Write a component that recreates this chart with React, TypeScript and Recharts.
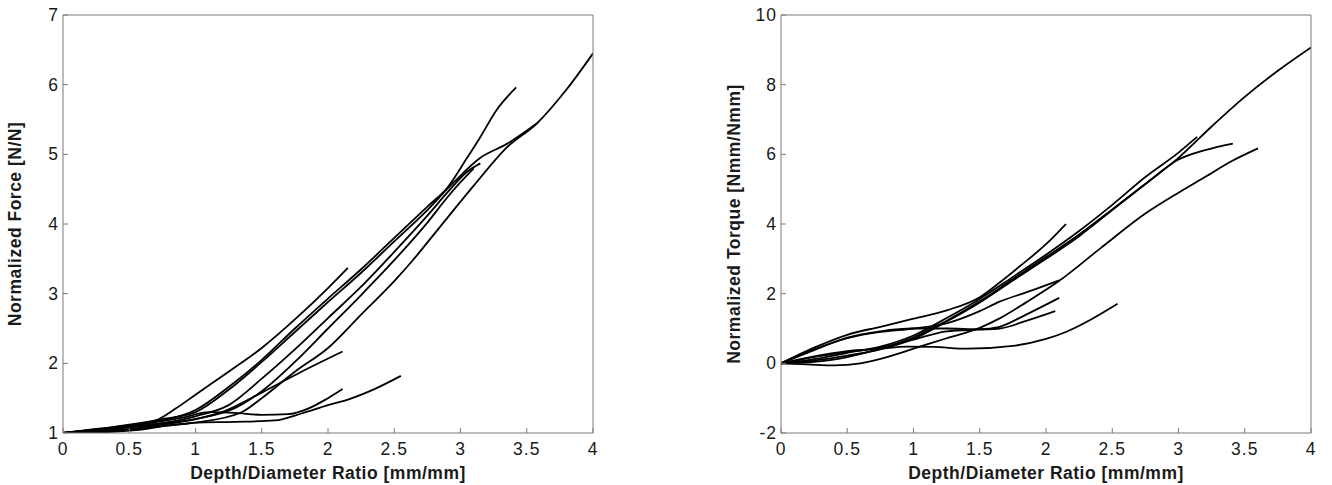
/**
 * Normalized force and torque vs depth/diameter ratio, two MATLAB-style panels.
 */

import React from 'react';
import { LineChart, Line, XAxis, YAxis, Label } from 'recharts';

// ============================================================================
// DATA  ([depth/diameter, normalized value] pairs)
// ============================================================================

const xTicks = [0, 0.5, 1, 1.5, 2, 2.5, 3, 3.5, 4];
const forceTicks = [1, 2, 3, 4, 5, 6, 7];
const torqueTicks = [-2, 0, 2, 4, 6, 8, 10];

const force1 = [[0, 1], [0.25, 1.06], [0.5, 1.11], [0.7, 1.18], [0.85, 1.35], [1, 1.55], [1.25, 1.88], [1.5, 2.22], [1.75, 2.63], [2, 3.08], [2.15, 3.37]];
const force2 = [[0, 1], [0.25, 1.04], [0.5, 1.1], [0.75, 1.18], [1, 1.33], [1.25, 1.66], [1.5, 2.05], [1.75, 2.5], [2, 2.93], [2.25, 3.35], [2.5, 3.8], [2.75, 4.25], [2.9, 4.52], [3.05, 4.95], [3.15, 5.25], [3.27, 5.63], [3.42, 5.96]];
const force3 = [[0, 1], [0.25, 1.03], [0.5, 1.08], [0.75, 1.14], [1, 1.24], [1.25, 1.4], [1.5, 1.78], [1.75, 2.2], [2, 2.65], [2.25, 3.1], [2.5, 3.6], [2.75, 4.12], [2.9, 4.45], [3.05, 4.75], [3.15, 4.87]];
const force4 = [[0, 1], [0.25, 1.02], [0.5, 1.06], [0.75, 1.12], [1, 1.2], [1.3, 1.36], [1.5, 1.6], [1.75, 2.02], [2, 2.5], [2.25, 2.98], [2.5, 3.48], [2.75, 4.02], [2.9, 4.38], [3, 4.6], [3.1, 4.8]];
const force5 = [[0, 1], [0.25, 1.02], [0.5, 1.05], [0.75, 1.1], [1, 1.15], [1.34, 1.29], [1.5, 1.5], [1.75, 1.88], [2, 2.22], [2.25, 2.7], [2.5, 3.18], [2.64, 3.48], [2.85, 3.97], [3.1, 4.55], [3.35, 5.1], [3.58, 5.45], [3.8, 5.93], [4, 6.45]];
const force6 = [[0, 1], [0.25, 1.05], [0.5, 1.12], [0.75, 1.2], [1, 1.3], [1.25, 1.62], [1.5, 2.02], [1.75, 2.45], [2, 2.88], [2.25, 3.3], [2.5, 3.75], [2.75, 4.2], [2.95, 4.6], [3.15, 4.95], [3.35, 5.15], [3.58, 5.45]];
const force7 = [[0, 1], [0.25, 1.04], [0.5, 1.09], [0.75, 1.14], [1, 1.2], [1.2, 1.3], [1.5, 1.58], [1.8, 1.88], [2.11, 2.17]];
const force8 = [[0, 1], [0.3, 1.06], [0.6, 1.13], [0.9, 1.22], [1.1, 1.3], [1.3, 1.29], [1.5, 1.26], [1.7, 1.27], [1.85, 1.35], [2, 1.5], [2.11, 1.63]];
const force9 = [[0, 1], [0.3, 1.01], [0.55, 1.04], [0.8, 1.11], [1, 1.15], [1.3, 1.16], [1.6, 1.18], [1.8, 1.28], [2, 1.4], [2.15, 1.48], [2.35, 1.63], [2.55, 1.82]];

const torque1 = [[0, 0], [0.25, 0.08], [0.5, 0.22], [0.75, 0.4], [1, 0.7], [1.25, 1.2], [1.5, 1.75], [1.75, 2.38], [2, 3.0], [2.25, 3.65], [2.5, 4.4], [2.75, 5.15], [3, 5.9], [3.25, 6.8], [3.5, 7.65], [3.75, 8.4], [4, 9.07]];
const torque2 = [[0, 0], [0.25, 0.12], [0.5, 0.3], [0.75, 0.48], [1, 0.8], [1.25, 1.3], [1.5, 1.85], [1.75, 2.48], [2, 3.12], [2.25, 3.8], [2.5, 4.55], [2.75, 5.35], [3, 6.05], [3.14, 6.5]];
const torque3 = [[0, 0], [0.25, 0.04], [0.5, 0.18], [0.75, 0.42], [1, 0.75], [1.25, 1.22], [1.5, 1.78], [1.75, 2.42], [2, 3.05], [2.25, 3.7], [2.5, 4.42], [2.75, 5.15], [3, 5.85], [3.2, 6.12], [3.41, 6.31]];
const torque4 = [[0, 0], [0.2, -0.03], [0.4, -0.06], [0.6, 0], [0.8, 0.18], [1, 0.42], [1.25, 0.72], [1.5, 1.02], [1.65, 1.29], [1.85, 1.75], [2.1, 2.37], [2.41, 3.3], [2.75, 4.3], [3, 4.9], [3.2, 5.35], [3.4, 5.8], [3.6, 6.17]];
const torque5 = [[0, 0], [0.25, 0.45], [0.5, 0.82], [0.75, 1.05], [1, 1.28], [1.25, 1.52], [1.5, 1.9], [1.65, 2.32], [1.8, 2.78], [2, 3.42], [2.15, 4.0]];
const torque6 = [[0, 0], [0.25, 0.4], [0.5, 0.72], [0.75, 0.9], [1, 1.0], [1.25, 1.15], [1.5, 1.5], [1.65, 1.77], [1.9, 2.1], [2.1, 2.38]];
const torque7 = [[0, 0], [0.25, 0.38], [0.5, 0.74], [0.75, 0.92], [1, 1.0], [1.25, 1.0], [1.5, 0.98], [1.65, 1.05], [1.85, 1.4], [2.1, 1.88]];
const torque8 = [[0, 0], [0.25, 0.18], [0.5, 0.32], [0.75, 0.45], [1, 0.68], [1.25, 0.92], [1.5, 0.97], [1.65, 1.0], [1.85, 1.22], [2.07, 1.5]];
const torque9 = [[0, 0], [0.25, 0.2], [0.5, 0.35], [0.75, 0.42], [0.95, 0.48], [1.15, 0.47], [1.41, 0.42], [1.75, 0.5], [2, 0.7], [2.15, 0.9], [2.35, 1.28], [2.54, 1.71]];

const forceCurves = [force1, force2, force3, force4, force5, force6, force7, force8, force9];
const torqueCurves = [torque1, torque2, torque3, torque4, torque5, torque6, torque7, torque8, torque9];

// ============================================================================
// CONSTANTS
// ============================================================================

const AXIS_COLOR = '#7a7a7a';
const TEXT_COLOR = '#1a1a1a';
const FONT = '"Liberation Sans", Arial, Helvetica, sans-serif';
const TICK_LEN = 5;
const CHART_HEIGHT = 485;

const toPoints = (pairs: number[][]) => pairs.map(([x, y]) => ({ x, y }));

// ============================================================================
// TICKS & TITLES  (MATLAB-style inward ticks on all four sides)
// ============================================================================

const BottomTick = ({ x, y, payload }: any) => (
  <g>
    <line x1={x} y1={y} x2={x} y2={y - TICK_LEN} stroke={AXIS_COLOR} />
    <text x={x} y={y + 22} textAnchor="middle" fontSize={17.5} fill={TEXT_COLOR}
      fontFamily={FONT} style={{ letterSpacing: '1px' }}>
      {payload.value}
    </text>
  </g>
);

const TopTick = ({ x, y }: any) => (
  <line x1={x} y1={y} x2={x} y2={y + TICK_LEN} stroke={AXIS_COLOR} />
);

const LeftTick = ({ x, y, payload }: any) => (
  <g>
    <line x1={x} y1={y} x2={x + TICK_LEN} y2={y} stroke={AXIS_COLOR} />
    <text x={x - 4} y={y + 6} textAnchor="end" fontSize={17.5} fill={TEXT_COLOR}
      fontFamily={FONT} style={{ letterSpacing: '1px' }}>
      {payload.value}
    </text>
  </g>
);

const RightTick = ({ x, y }: any) => (
  <line x1={x - TICK_LEN} y1={y} x2={x} y2={y} stroke={AXIS_COLOR} />
);

const XTitle = ({ viewBox, text }: any) => {
  const { x, y, width } = viewBox;
  return (
    <text x={x + width / 2} y={y + 46} textAnchor="middle" fontSize={17.5} fontWeight="bold"
      fill={TEXT_COLOR} fontFamily={FONT} style={{ letterSpacing: '0.5px' }}>
      {text}
    </text>
  );
};

const YTitle = ({ viewBox, text, baseX }: any) => {
  const { x, y, height } = viewBox;
  const cx = x + baseX;
  const cy = y + height / 2;
  return (
    <text x={cx} y={cy} transform={`rotate(-90, ${cx}, ${cy})`} textAnchor="middle" fontSize={17.5}
      fontWeight="bold" fill={TEXT_COLOR} fontFamily={FONT} style={{ letterSpacing: '0.5px' }}>
      {text}
    </text>
  );
};

// ============================================================================
// PANEL
// ============================================================================

interface PanelProps {
  curves: number[][][];
  yDomain: [number, number];
  yTicks: number[];
  yTitle: string;
  width: number;
  yAxisWidth: number;
  rightGap: number;
  titleX: number;
}

const Panel: React.FC<PanelProps> = ({ curves, yDomain, yTicks, yTitle, width, yAxisWidth, rightGap, titleX }) => (
  <LineChart width={width} height={CHART_HEIGHT} margin={{ top: 14, right: rightGap, bottom: 0, left: 0 }}>
    <XAxis
      dataKey="x"
      type="number"
      domain={[0, 4]}
      ticks={xTicks}
      interval={0}
      allowDataOverflow
      height={52}
      tickSize={0}
      tickMargin={0}
      tickLine={false}
      axisLine={{ stroke: AXIS_COLOR }}
      tick={<BottomTick />}
    >
      <Label content={(p: any) => <XTitle viewBox={p.viewBox} text="Depth/Diameter Ratio [mm/mm]" />} />
    </XAxis>
    <XAxis
      xAxisId="top"
      orientation="top"
      dataKey="x"
      type="number"
      domain={[0, 4]}
      ticks={xTicks}
      interval={0}
      height={1}
      tickSize={0}
      tickMargin={0}
      tickLine={false}
      axisLine={{ stroke: AXIS_COLOR }}
      tick={<TopTick />}
    />
    <YAxis
      type="number"
      domain={yDomain}
      ticks={yTicks}
      interval={0}
      allowDataOverflow
      width={yAxisWidth}
      tickSize={0}
      tickMargin={0}
      tickLine={false}
      axisLine={{ stroke: AXIS_COLOR }}
      tick={<LeftTick />}
    >
      <Label content={(p: any) => <YTitle viewBox={p.viewBox} text={yTitle} baseX={titleX} />} />
    </YAxis>
    <YAxis
      yAxisId="right"
      orientation="right"
      type="number"
      domain={yDomain}
      ticks={yTicks}
      interval={0}
      width={1}
      tickSize={0}
      tickMargin={0}
      tickLine={false}
      axisLine={{ stroke: AXIS_COLOR }}
      tick={<RightTick />}
    />
    {curves.map((c, i) => (
      <Line
        key={i}
        data={toPoints(c)}
        dataKey="y"
        type="monotone"
        stroke="#000"
        strokeWidth={1.8}
        dot={false}
        activeDot={false}
        isAnimationActive={false}
      />
    ))}
  </LineChart>
);

// ============================================================================
// APP
// ============================================================================

export default function App() {
  return (
    <div style={{ position: 'absolute', left: 0, top: 0, width: 1332, height: 485, background: '#fff' }}>
      <div style={{ position: 'absolute', left: 0, top: 0 }}>
        <Panel
          curves={forceCurves}
          yDomain={[1, 7]}
          yTicks={forceTicks}
          yTitle="Normalized Force [N/N]"
          width={660}
          yAxisWidth={63}
          rightGap={66}
          titleX={21}
        />
      </div>
      <div style={{ position: 'absolute', left: 666, top: 0 }}>
        <Panel
          curves={torqueCurves}
          yDomain={[-2, 10]}
          yTicks={torqueTicks}
          yTitle="Normalized Torque [Nmm/Nmm]"
          width={666}
          yAxisWidth={115}
          rightGap={20}
          titleX={74}
        />
      </div>
    </div>
  );
}
